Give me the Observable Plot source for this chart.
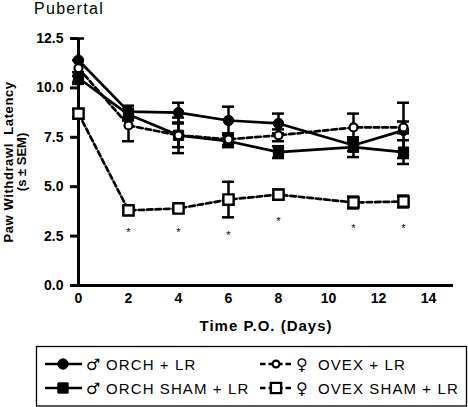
<!DOCTYPE html>
<html><head><meta charset="utf-8">
<script src="https://cdn.jsdelivr.net/npm/d3@7"></script>
<script src="https://cdn.jsdelivr.net/npm/@observablehq/plot@0.6"></script>
<style>
html,body{margin:0;padding:0;background:#fff;}
#wrap{position:relative;width:468px;height:407px;font-family:"Liberation Sans",Arial,sans-serif;}
#wrap svg{position:absolute;left:0;}
</style></head><body><div id="wrap"></div>
<script>
// ---- data ----
const chartTitle = "Pubertal";
const xLabel = "Time P.O. (Days)";
const yLabelLines = ["Paw Withdrawl  Latency", "(s \u00B1 SEM)"];
const xTicks = [0, 2, 4, 6, 8, 10, 12, 14];
const yTicks = [0, 2.5, 5, 7.5, 10, 12.5];
const days = [0, 2, 4, 6, 8, 11, 13];

const orchLR      = [11.4, 8.8, 8.75, 8.35, 8.2, 7.1, 7.85];
const orchLRSem   = [1.1, 0.3, 0.5, 0.7, 0.5, 0.3, 1.4];
const orchShamLR  = [10.5, 8.65, 7.6, 7.3, 6.75, 7.0, 6.75];
const orchShamSem = [0.3, 0.3, 0.9, 0.3, 0.3, 0.5, 0.6];
const ovexLR      = [11.0, 8.1, 7.6, 7.4, 7.6, 8.0, 8.0];
const ovexLRSem   = [0.4, 0.8, 0.6, 0.3, 0.3, 0.7, 0.3];
const ovexShamLR  = [8.7, 3.8, 3.9, 4.35, 4.6, 4.2, 4.25];
const ovexShamSem = [0.2, 0.15, 0.1, 0.9, 0.25, 0.3, 0.3];

const starDays = [2, 4, 6, 8, 11, 13];
const starY    = [2.83, 2.83, 2.68, 3.39, 3.04, 3.04];

const seriesNames = ["ORCH + LR", "ORCH SHAM + LR", "OVEX + LR", "OVEX SHAM + LR"];
const seriesSex   = ["\u2642", "\u2642", "\u2640", "\u2640"];

// ---- build ----
const seriesDefs = [
  {name: seriesNames[0], sex: seriesSex[0], mean: orchLR, sem: orchLRSem, symbol: "circle", r: 5.2, fill: "black", sw: 1, dash: null},
  {name: seriesNames[1], sex: seriesSex[1], mean: orchShamLR, sem: orchShamSem, symbol: "square", r: 5.8, fill: "black", sw: 1, dash: null},
  {name: seriesNames[2], sex: seriesSex[2], mean: ovexLR, sem: ovexLRSem, symbol: "circle", r: 4, fill: "white", sw: 2.2, dash: "5.5,3"},
  {name: seriesNames[3], sex: seriesSex[3], mean: ovexShamLR, sem: ovexShamSem, symbol: "square", r: 5.8, fill: "white", sw: 2.4, dash: "5.5,3"}
];
const rowsOf = s => days.map((d, i) => ({series: s.name, day: d, mean: s.mean[i], sem: s.sem[i]}));
const allRows = seriesDefs.flatMap(rowsOf);
const stars = starDays.map((d, i) => ({day: d, y: starY[i]}));
const capHalf = 0.24;

const marks = [
  Plot.axisX({ticks: xTicks, tickSize: 0, tickPadding: 8, fontSize: 14, fontWeight: "bold", label: null, tickFormat: d => d}),
  Plot.axisY({ticks: yTicks, tickSize: 8, tickPadding: 7, strokeWidth: 3, fontSize: 14, fontWeight: "bold", label: null, tickFormat: d => d.toFixed(1)}),
  Plot.ruleX([0], {strokeWidth: 3}),
  Plot.ruleY([0], {strokeWidth: 3}),
  ...seriesDefs.map(s => Plot.line(rowsOf(s), {x: "day", y: "mean", stroke: "black", strokeWidth: 2.7, strokeDasharray: s.dash})),
  Plot.ruleX(allRows, {x: "day", y1: d => d.mean - d.sem, y2: d => d.mean + d.sem, strokeWidth: 2.5}),
  Plot.ruleY(allRows, {y: d => d.mean + d.sem, x1: d => d.day - capHalf, x2: d => d.day + capHalf, strokeWidth: 2.5}),
  Plot.ruleY(allRows, {y: d => d.mean - d.sem, x1: d => d.day - capHalf, x2: d => d.day + capHalf, strokeWidth: 2.5}),
  ...seriesDefs.map(s => Plot.dot(rowsOf(s), {x: "day", y: "mean", symbol: s.symbol, r: s.r, fill: s.fill, stroke: "black", strokeWidth: s.sw})),
  Plot.text(stars, {x: "day", y: "y", text: () => "*", fontSize: 11, dy: 3, fill: "black"}),
  Plot.text([yLabelLines[0]], {frameAnchor: "left", textAnchor: "middle", text: d => d, rotate: -90, dx: -70, fontSize: 13, fontWeight: "bold"}),
  Plot.text([yLabelLines[1]], {frameAnchor: "left", textAnchor: "middle", text: d => d, rotate: -90, dx: -57, fontSize: 13, fontWeight: "bold"}),
  Plot.text([xLabel], {frameAnchor: "bottom", lineAnchor: "top", text: d => d, dy: 35, fontSize: 15, fontWeight: "bold"})
];

const plot = Plot.plot({
  width: 468, height: 340,
  marginLeft: 78, marginRight: 15, marginTop: 38, marginBottom: 55,
  style: {fontFamily: "'Liberation Sans', Arial, sans-serif", background: "white", color: "black"},
  x: {domain: [0, 15]},
  y: {domain: [0, 12.5]},
  marks
});
plot.style.top = "0px";
const sel = d3.select(plot);
sel.selectAll("text").filter(function() { return this.textContent === xLabel; }).attr("letter-spacing", "1px");
sel.selectAll("text").filter(function() { return this.textContent === yLabelLines[0]; }).attr("letter-spacing", "0.6px");
sel.append("text").attr("x", 34).attr("y", 14).attr("font-size", 16).attr("letter-spacing", "1.3px")
  .attr("text-anchor", "start").attr("fill", "black").text(chartTitle);
document.getElementById("wrap").appendChild(plot);

// ---- legend ----
const leg = d3.create("svg").attr("width", 468).attr("height", 67).style("top", "340px")
  .style("font-family", "'Liberation Sans', Arial, sans-serif");
leg.append("rect").attr("x", 36.5).attr("y", 6.5).attr("width", 430).attr("height", 59.5)
  .attr("fill", "white").attr("stroke", "black").attr("stroke-width", 1.3);
const cols = [{x0: 45, x1: 82, mx: 63, sx: 86, tx: 106}, {x0: 260, x1: 292, mx: 276, sx: 296, tx: 318}];
const rowsY = [24, 48];
const legOrder = [[0, 0, 0], [1, 0, 1], [2, 1, 0], [3, 1, 1]];
legOrder.forEach(([si, ci, ri]) => {
  const s = seriesDefs[si], c = cols[ci], y = rowsY[ri];
  leg.append("line").attr("x1", c.x0).attr("x2", c.x1).attr("y1", y).attr("y2", y)
    .attr("stroke", "black").attr("stroke-width", 2.6).attr("stroke-dasharray", s.dash);
  const sym = d3.symbol(s.symbol === "circle" ? d3.symbolCircle : d3.symbolSquare, s.r * s.r * Math.PI * (s.fill === "white" && s.symbol === "circle" ? 0.75 : 1));
  leg.append("path").attr("d", sym()).attr("transform", `translate(${c.mx},${y})`)
    .attr("fill", s.fill).attr("stroke", "black").attr("stroke-width", s.sw);
  leg.append("text").attr("x", c.sx).attr("y", y + 5.5).attr("font-size", 16)
    .attr("font-family", "'DejaVu Sans', sans-serif").text(s.sex);
  leg.append("text").attr("x", c.tx).attr("y", y + 5.5).attr("font-size", 15).attr("letter-spacing", "1.1px").text(s.name);
});
document.getElementById("wrap").appendChild(leg.node());
</script></body></html>
